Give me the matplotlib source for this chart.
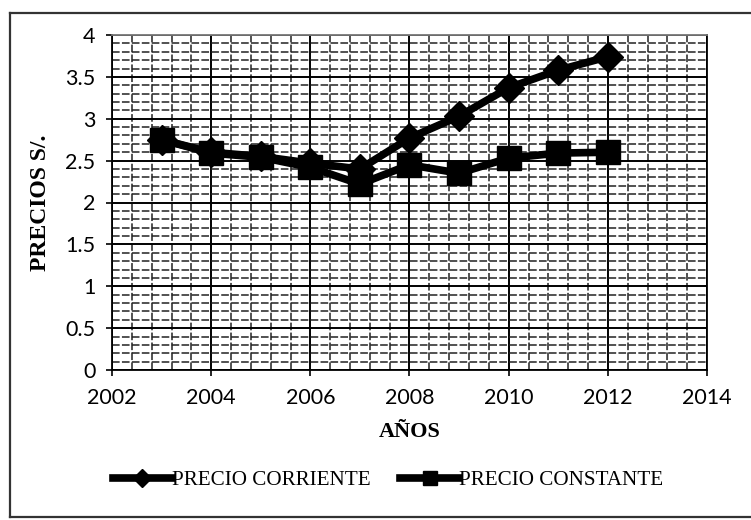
import numpy as np
import matplotlib
matplotlib.use("Agg")
import matplotlib.pyplot as plt
from matplotlib.lines import Line2D

# data
years = [2003, 2004, 2005, 2006, 2007, 2008, 2009, 2010, 2011, 2012]
precio_corriente = [2.75, 2.60, 2.55, 2.47, 2.40, 2.77, 3.03, 3.37, 3.58, 3.74]
precio_constante = [2.75, 2.59, 2.54, 2.42, 2.22, 2.45, 2.35, 2.53, 2.59, 2.60]

label_corriente = "PRECIO CORRIENTE"
label_constante = "PRECIO CONSTANTE"
x_label = "AÑOS"
y_label = "PRECIOS S/."
y_ticklabels = ["0", "0.5", "1", "1.5", "2", "2.5", "3", "3.5", "4"]

fig = plt.figure(figsize=(7.51, 5.20), dpi=100, facecolor="white")
ax = fig.add_axes([112 / 751, 1 - 370 / 520, (707 - 112) / 751, (370 - 35) / 520])

# plot area "pattern": fine dashed grid + solid major grid
ax.set_xlim(2002, 2014)
ax.set_ylim(0, 4)
ax.set_xticks(np.arange(2002, 2015, 2))
ax.set_yticks(np.arange(0, 4.01, 0.5))
ax.set_yticklabels(y_ticklabels)
ax.set_xticks(np.arange(2002, 2014.01, 0.4), minor=True)
ax.set_yticks(np.arange(0, 4.01, 0.1), minor=True)
ax.grid(which="minor", color="#222222", lw=1.1, ls=(0, (5, 1.5)))
ax.grid(which="major", color="black", lw=1.4)
ax.tick_params(which="minor", length=0)
ax.tick_params(which="major", direction="out", length=4, width=1.2,
               labelsize=15.5)
ax.tick_params(axis="x", pad=9)
ax.tick_params(axis="y", pad=8)
for lab in ax.get_xticklabels() + ax.get_yticklabels():
    lab.set_family("Lato")
for sp in ax.spines.values():
    sp.set_color("black")
    sp.set_linewidth(1.3)
ax.spines["top"].set_color("#777777")
ax.set_axisbelow(True)

ax.plot(years, precio_corriente, color="black", lw=5.5, marker="D",
        markersize=15, label=label_corriente, zorder=4)
ax.plot(years, precio_constante, color="black", lw=5.5, marker="s",
        markersize=17, label=label_constante, zorder=3)

ax.set_xlabel(x_label, family="Liberation Serif", fontweight="bold",
              fontsize=16, labelpad=10)
ax.set_ylabel(y_label, family="Liberation Serif", fontweight="bold",
              fontsize=17, labelpad=10)

leg = fig.legend(loc="center", bbox_to_anchor=(388 / 751, 1 - 480 / 520),
                 ncol=2, frameon=False, handlelength=2.8, handletextpad=0.0,
                 columnspacing=1.4, markerscale=0.6,
                 prop={"family": "Liberation Serif", "size": 15.2})

# outer chart frame (right edge runs past the picture)
frame = dict(color="#333333", lw=1.6)
fig.add_artist(Line2D([10 / 751, 10 / 751], [1 - 13 / 520, 1 - 517 / 520], **frame))
fig.add_artist(Line2D([10 / 751, 1], [1 - 13 / 520, 1 - 13 / 520], **frame))
fig.add_artist(Line2D([10 / 751, 1], [1 - 517 / 520, 1 - 517 / 520], **frame))

fig.savefig("out.png", dpi=100, facecolor="white")
